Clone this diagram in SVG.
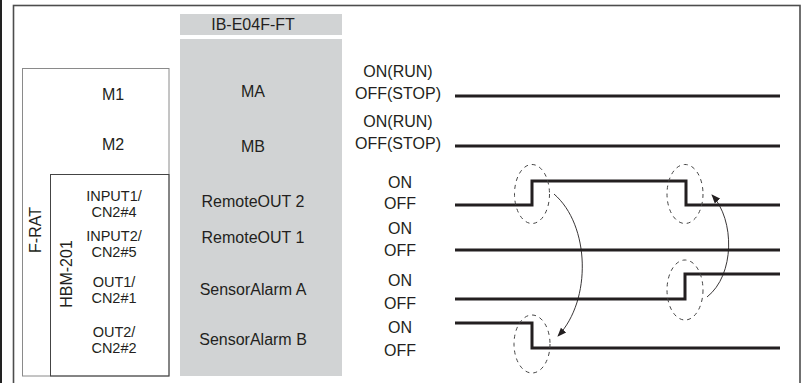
<svg xmlns="http://www.w3.org/2000/svg" width="803" height="383" viewBox="0 0 803 383">
<style>
text{font-family:"Liberation Sans",Arial,sans-serif;font-size:16px;fill:#231f20;text-anchor:middle}
text.st{font-size:14.5px}
.sig{fill:none;stroke:#231f20;stroke-width:3}
.ell{fill:none;stroke:#444;stroke-width:1;stroke-dasharray:4 4}
.arr{fill:none;stroke:#231f20;stroke-width:0.9}
.gray{fill:#d1d3d4}
</style>
<defs>
<marker id="ah" viewBox="0 0 10 10" refX="9" refY="5" markerWidth="9" markerHeight="9" markerUnits="userSpaceOnUse" orient="auto">
<path d="M0,1 L10,5 L0,9 Z" fill="#231f20"/>
</marker>
</defs>
<rect width="803" height="383" fill="#fff"/>
<line x1="1" y1="0" x2="1" y2="383" stroke="#222" stroke-width="2"/>
<rect x="13.5" y="5.5" width="786.5" height="400" fill="none" stroke="#4d4d4d" stroke-width="1.6"/>

<g id="frat">
<rect x="22.5" y="68.5" width="146.5" height="307.5" fill="none" stroke="#8a8a8a" stroke-width="1"/>
<text x="113" y="100">M1</text>
<text x="113" y="150">M2</text>
<text transform="translate(41,230) rotate(-90)">F-RAT</text>
</g>
<g id="hbm">
<rect x="50.5" y="174.5" width="118.5" height="201.5" fill="none" stroke="#444" stroke-width="1"/>
<text transform="translate(72,274) rotate(-90)">HBM-201</text>
<text class="st" x="114" y="201">INPUT1/</text>
<text class="st" x="114" y="217">CN2#4</text>
<text class="st" x="114" y="241">INPUT2/</text>
<text class="st" x="114" y="257">CN2#5</text>
<text class="st" x="114" y="287">OUT1/</text>
<text class="st" x="114" y="303">CN2#1</text>
<text class="st" x="114" y="337">OUT2/</text>
<text class="st" x="114" y="353">CN2#2</text>
</g>
<g id="ib">
<rect class="gray" x="180" y="14" width="162" height="21"/>
<text x="253" y="30">IB-E04F-FT</text>
<rect class="gray" x="180" y="39" width="162" height="337"/>
<text x="253" y="97">MA</text>
<text x="253" y="152">MB</text>
<text x="253" y="207">RemoteOUT 2</text>
<text x="253" y="243">RemoteOUT 1</text>
<text x="253" y="295">SensorAlarm A</text>
<text x="253" y="345">SensorAlarm B</text>
</g>
<g id="levels">
<text x="398" y="77">ON(RUN)</text>
<text x="398" y="99">OFF(STOP)</text>
<text x="398" y="127">ON(RUN)</text>
<text x="398" y="149">OFF(STOP)</text>
<text x="400" y="188">ON</text>
<text x="400" y="209">OFF</text>
<text x="400" y="234">ON</text>
<text x="400" y="256">OFF</text>
<text x="400" y="286">ON</text>
<text x="400" y="309">OFF</text>
<text x="400" y="333">ON</text>
<text x="400" y="356">OFF</text>
</g>
<g id="signals">
<path class="sig" d="M455,96 H780"/>
<path class="sig" d="M455,146 H780"/>
<path class="sig" d="M455,205 H532 V181 H686 V205 H780"/>
<path class="sig" d="M455,250 H780"/>
<path class="sig" d="M455,299 H685 V274 H780"/>
<path class="sig" d="M455,323 H532 V348 H780"/>
</g>
<g id="connectors">
<ellipse class="ell" cx="532" cy="194" rx="17.5" ry="29.5"/>
<ellipse class="ell" cx="685" cy="194" rx="18" ry="29.5"/>
<ellipse class="ell" cx="685" cy="290" rx="18" ry="30"/>
<ellipse class="ell" cx="532" cy="344" rx="18" ry="29"/>
<path class="arr" d="M554,194 C590,225 592,300 558,336" marker-end="url(#ah)"/>
<path class="arr" d="M707,297 C735,275 735,220 712,195" marker-end="url(#ah)"/>
</g>
</svg>
